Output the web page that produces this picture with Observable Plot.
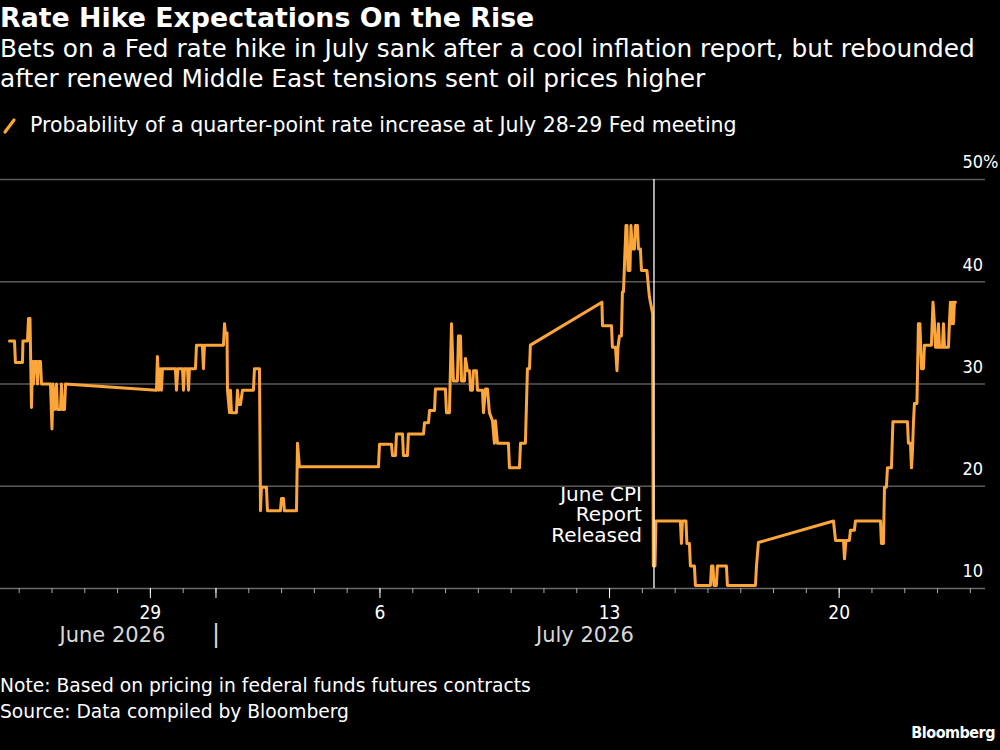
<!DOCTYPE html>
<html><head><meta charset="utf-8">
<script src="https://cdn.jsdelivr.net/npm/d3@7"></script>
<script src="https://cdn.jsdelivr.net/npm/@observablehq/plot@0.6"></script>
<style>
html,body{margin:0;padding:0;background:#000;}
#root{position:relative;width:1000px;height:750px;background:#000;color:#fff;font-family:"DejaVu Sans",sans-serif;overflow:hidden;}
.abs{position:absolute;left:0;white-space:nowrap;}
#title{top:3px;font-weight:bold;font-size:26.8px;line-height:30px;}
#subtitle{top:34px;font-size:24.8px;line-height:30px;}
#legend{top:113px;font-size:20.5px;line-height:24px;display:flex;align-items:center;}
#legend svg{margin-right:8px;}
#chart{top:145px;}
#notes{top:673px;font-size:18.7px;line-height:26px;}
#brand{top:723px;right:5px;left:auto;font-family:"DejaVu Sans Condensed","DejaVu Sans",sans-serif;font-weight:bold;font-size:16px;letter-spacing:-0.5px;}
</style></head><body><div id="root">
<div id="title" class="abs">Rate Hike Expectations On the Rise</div>
<div id="subtitle" class="abs">Bets on a Fed rate hike in July sank after a cool inflation report, but rebounded<br>after renewed Middle East tensions sent oil prices higher</div>
<div id="legend" class="abs"><svg width="22" height="22"><line x1="5" y1="18" x2="14" y2="6" stroke="#fca53a" stroke-width="3.2" stroke-linecap="round"/></svg><span>Probability of a quarter-point rate increase at July 28-29 Fed meeting</span></div>
<div id="chart" class="abs"></div>
<div id="notes" class="abs">Note: Based on pricing in federal funds futures contracts<br>Source: Data compiled by Bloomberg</div>
<div id="brand" class="abs">Bloomberg</div>
</div>
<script>
// Timestamps (ET, 2026) and probability (%)
const times = [
"06-24 16:55","06-24 20:35","06-24 21:15","06-25 02:25","06-25 02:45","06-25 06:05","06-25 06:50","06-25 07:55","06-25 09:00","06-25 09:45",
"06-25 10:30","06-25 11:10","06-25 12:40","06-25 13:25","06-25 14:05","06-25 15:35","06-25 16:20","06-25 22:55","06-26 00:00","06-26 00:45",
"06-26 01:50","06-26 03:20","06-26 04:00","06-26 06:15","06-26 06:55","06-26 07:40","06-26 09:10","06-26 09:55","06-29 04:30","06-29 05:10",
"06-29 06:15","06-29 07:25","06-29 08:05","06-29 08:50","06-29 18:20","06-29 19:05","06-29 20:10","06-29 23:30","06-30 00:15","06-30 00:55",
"06-30 03:10","06-30 03:55","06-30 04:35","06-30 09:00","06-30 09:45","06-30 14:05","06-30 14:50","06-30 15:35","07-01 05:30","07-01 06:15",
"07-01 06:55","07-01 08:05","07-01 08:25","07-01 09:55","07-01 10:35","07-01 11:20","07-01 15:00","07-01 15:45","07-01 16:30","07-01 17:55",
"07-01 19:25","07-02 03:25","07-02 04:10","07-02 07:50","07-02 08:35","07-02 09:15","07-02 12:55","07-02 13:40","07-02 23:10","07-02 23:55",
"07-03 01:25","07-03 02:05","07-03 10:55","07-03 11:40","07-03 13:05","07-05 22:55","07-05 23:40","07-06 08:25","07-06 09:10","07-06 11:20",
"07-06 12:05","07-06 16:30","07-06 17:10","07-06 20:05","07-06 20:50","07-07 07:50","07-07 08:35","07-07 11:30","07-07 12:15","07-07 15:55",
"07-07 16:35","07-07 23:55","07-08 00:40","07-08 02:50","07-08 04:20","07-08 05:45","07-08 08:40","07-08 09:25","07-08 10:55","07-08 11:40",
"07-08 13:50","07-08 14:35","07-08 16:00","07-08 17:30","07-08 18:15","07-08 19:40","07-08 20:25","07-08 22:35","07-08 23:20","07-09 03:00",
"07-09 03:45","07-09 05:10","07-09 06:40","07-09 08:05","07-09 10:20","07-09 11:45","07-09 12:30","07-09 14:00","07-09 22:00","07-09 22:45",
"07-10 06:05","07-10 06:50","07-10 10:25","07-10 11:55","07-10 13:25","07-10 14:05","07-12 18:25","07-12 18:50","07-13 01:25","07-13 02:05",
"07-13 04:20","07-13 05:25","07-13 06:10","07-13 07:15","07-13 08:40","07-13 09:25","07-13 10:10","07-13 12:00","07-13 12:45","07-13 13:30",
"07-13 14:55","07-13 15:40","07-13 16:45","07-13 18:15","07-13 18:55","07-13 20:25","07-13 21:10","07-13 22:35","07-13 23:20","07-14 03:20",
"07-14 05:10","07-14 07:30","07-14 08:00","07-14 09:15","07-14 09:55","07-15 03:50","07-15 04:35","07-15 05:20","07-15 07:55","07-15 08:35",
"07-15 10:25","07-15 11:10","07-15 14:05","07-15 14:50","07-16 01:50","07-16 02:35","07-16 03:40","07-16 04:25","07-16 06:10","07-16 06:55",
"07-16 13:30","07-16 14:15","07-17 10:45","07-17 11:30","07-17 12:55","07-19 19:50","07-19 21:20","07-20 03:10","07-20 03:55","07-20 05:00",
"07-20 07:30","07-20 08:15","07-20 11:10","07-20 11:55","07-21 06:15","07-21 06:55","07-21 08:25","07-21 09:10","07-21 10:35","07-21 11:20",
"07-21 14:15","07-21 15:20","07-22 02:00","07-22 02:40","07-22 04:10","07-22 04:55","07-22 05:40","07-22 06:20","07-22 07:05","07-22 08:55",
"07-22 10:00","07-22 11:05","07-22 12:15","07-22 13:40","07-22 14:25","07-22 19:30","07-22 20:40","07-22 21:45","07-22 22:30","07-22 23:55",
"07-23 00:40","07-23 01:25","07-23 03:35","07-23 04:20","07-23 05:05","07-23 08:00","07-23 08:40","07-23 09:25","07-23 10:10","07-23 10:55",
"07-23 11:40","07-23 12:20","07-23 13:05"
];
const probability = [
34.2,34.2,32.1,32.1,34.2,34.2,36.4,36.4,27.7,32.2,
30.0,32.2,32.2,30.0,32.2,32.2,30.0,30.0,25.6,30.0,
27.5,30.0,27.5,27.5,30.0,27.5,27.5,30.0,29.4,32.7,
29.4,31.5,29.4,31.5,31.5,29.4,31.5,31.5,29.4,31.5,
31.5,29.4,31.5,31.5,33.8,33.8,31.5,33.8,33.8,35.9,
35.0,35.0,29.4,27.2,29.4,27.2,27.2,29.4,28.0,28.0,
29.4,29.4,31.5,31.5,17.6,19.9,19.9,17.6,17.6,18.8,
18.8,17.6,17.6,24.2,21.9,21.9,24.1,24.1,23.0,23.0,
25.1,25.1,23.0,23.0,25.1,25.1,26.2,26.2,27.4,27.4,
29.5,29.5,27.2,27.2,35.9,30.3,30.3,34.7,34.7,30.3,
30.3,32.5,31.3,31.3,29.4,29.4,31.3,31.3,29.4,29.4,
27.2,29.5,29.5,27.2,26.4,24.2,26.4,24.2,24.2,21.8,
21.8,24.2,24.2,31.5,31.5,33.8,38.0,35.7,35.7,33.6,
33.6,31.3,33.6,34.7,34.7,39.0,39.0,45.5,45.5,41.1,
41.1,45.5,43.2,43.2,45.5,45.5,43.2,43.2,41.1,41.1,
38.5,36.9,12.2,12.2,16.6,16.6,14.4,16.6,16.6,14.4,
14.4,12.2,12.2,10.3,10.3,12.2,12.2,10.3,10.3,12.2,
12.2,10.3,10.3,12.2,14.5,16.6,14.7,14.7,12.9,14.7,
14.7,15.7,15.7,16.6,16.6,14.4,14.4,19.9,19.9,21.8,
21.8,26.3,26.3,24.2,24.2,21.8,23.5,26.1,28.1,28.1,
35.9,35.9,31.5,31.5,33.8,33.8,38.0,35.9,33.6,33.6,
35.9,33.6,33.6,35.9,33.6,33.6,35.9,38.0,35.9,38.0,
35.9,38.0,38.0
];
const yTicks = [10, 20, 30, 40, 50];
const xRange = ["06-24 10:20", "07-24 11:05"];
const monthNames = ["June 2026", "July 2026"];
const monthLabelTimes = ["06-27 20:15", "07-12 06:00"];
const monthBoundary = ["07-01 00:00"];
const cpiRelease = "07-14 08:30";
const cpiLabel = "June CPI\nReport\nReleased";

const parse = s => d3.utcParse("%Y-%m-%d %H:%M")("2026-" + s);
const series = times.map((t, i) => ({date: parse(t), value: probability[i]}));
const domain = xRange.map(parse);
const dayTicks = d3.utcDay.range(domain[0], domain[1]);
const bigTicks = d3.utcMonday.range(domain[0], domain[1]).concat(monthBoundary.map(parse));
const months = monthNames.map((m, i) => ({label: m, date: parse(monthLabelTimes[i])}));
const cpi = parse(cpiRelease);
const orange = "#fca53a";
const cond = '"DejaVu Sans Condensed","DejaVu Sans",sans-serif';
const reg = '"DejaVu Sans",sans-serif';

const chart = Plot.plot({
  width: 1000, height: 515,
  marginTop: 34, marginBottom: 72, marginLeft: 0, marginRight: 15,
  style: {background: "#000", color: "#fff", fontFamily: cond, fontSize: "19px"},
  x: {type: "utc", domain, label: null},
  y: {domain: [10, 50], label: null},
  marks: [
    Plot.gridY(yTicks.filter(d => d > 10), {stroke: "#5a5a5a", strokeOpacity: 1, strokeWidth: 1.3}),
    Plot.ruleY([10], {stroke: "#6a6a6a", strokeWidth: 1.3}),
    Plot.axisY(yTicks, {anchor: "right", tickSize: 0, dx: -32, dy: -17, textAnchor: "start", fontSize: 18,
      tickFormat: d => d === 50 ? "50%" : String(d), label: null}),
    Plot.axisX(dayTicks, {tickSize: 5, stroke: "#aaa", tickFormat: () => "", label: null}),
    Plot.axisX(bigTicks, {tickSize: 10, tickPadding: 7, stroke: "#fff", fontSize: 19, label: null,
      tickFormat: d => d.getUTCDay() === 1 ? String(d.getUTCDate()) : ""}),
    Plot.text(months, {x: "date", text: "label", frameAnchor: "bottom", dy: 53, fill: "#d8d8d8", fontSize: 21, fontFamily: reg}),
    Plot.text(monthBoundary.map(parse), {x: d => d, text: () => "|", frameAnchor: "bottom", dy: 53, fill: "#d8d8d8", fontSize: 24, fontFamily: reg}),
    Plot.line(series, {x: "date", y: "value", stroke: orange, strokeWidth: 3, strokeLinejoin: "round"}),
    Plot.ruleX([cpi], {stroke: "#fff", strokeWidth: 1.3}),
    Plot.text([{date: cpi, y: 17.2, text: cpiLabel}], {x: "date", y: "y", text: "text", textAnchor: "end", dx: -12, lineHeight: 1.03, fill: "#fff", fontSize: 20, fontFamily: reg})
  ]
});
document.getElementById("chart").appendChild(chart);
</script>
</body></html>
